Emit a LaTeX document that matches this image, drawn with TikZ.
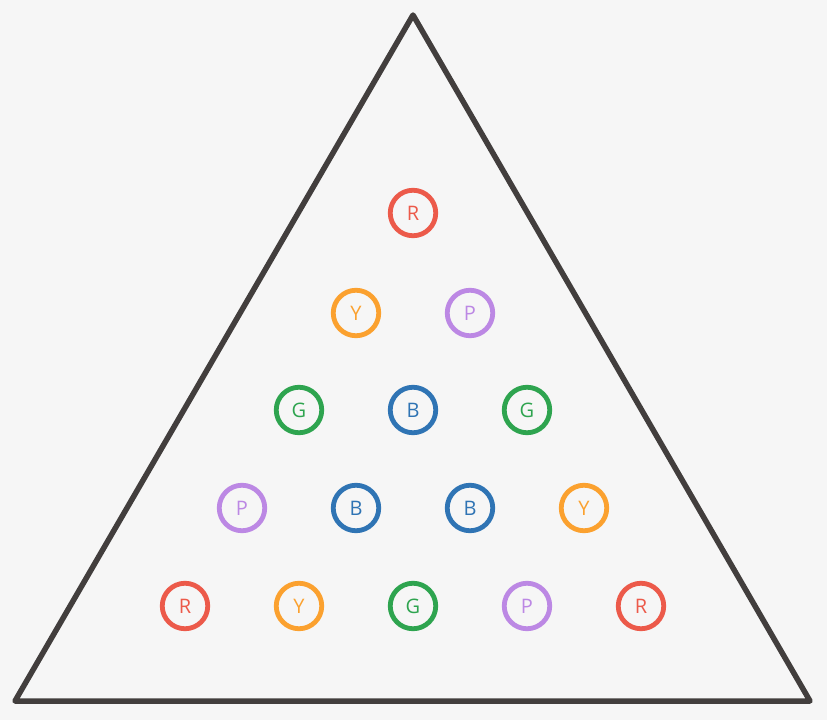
\documentclass[tikz,border=0pt]{standalone}
\usepackage{fontspec}
\setmainfont{Open Sans}
\definecolor{bg}{HTML}{F6F6F6}
\definecolor{tri}{HTML}{423E3D}
\definecolor{cR}{HTML}{EC5A4A}
\definecolor{cY}{HTML}{FBA12F}
\definecolor{cP}{HTML}{BC88E4}
\definecolor{cG}{HTML}{2EA44F}
\definecolor{cB}{HTML}{2F74B4}
\tikzset{
  ball/.style={circle, draw=#1, line width=4.8pt, minimum size=45.5pt, inner sep=0pt, text=#1, font=\fontsize{20}{20}\selectfont},
}
\begin{document}
\begin{tikzpicture}[x=1pt,y=-1pt]
\fill[bg] (0,0) rectangle (827,720);
\useasboundingbox (0,0) rectangle (827,720);
\coordinate (A) at (413,15);
\coordinate (L) at (15,701);
\coordinate (Rt) at (810,701);
\draw[tri, line width=5.5pt, line join=round] (A) -- (L) -- (Rt) -- cycle;
\node[ball=cR] (r1a) at (413,213) {R};
\node[ball=cY] (r2a) at (356,313) {Y};
\node[ball=cP] (r2b) at (470,313) {P};
\node[ball=cG] (r3a) at (299,410) {G};
\node[ball=cB] (r3b) at (413,410) {B};
\node[ball=cG] (r3c) at (527,410) {G};
\node[ball=cP] (r4a) at (242,508) {P};
\node[ball=cB] (r4b) at (356,508) {B};
\node[ball=cB] (r4c) at (470,508) {B};
\node[ball=cY] (r4d) at (584,508) {Y};
\node[ball=cR] (r5a) at (185,606) {R};
\node[ball=cY] (r5b) at (299,606) {Y};
\node[ball=cG] (r5c) at (413,606) {G};
\node[ball=cP] (r5d) at (527,606) {P};
\node[ball=cR] (r5e) at (641,606) {R};
\end{tikzpicture}
\end{document}
